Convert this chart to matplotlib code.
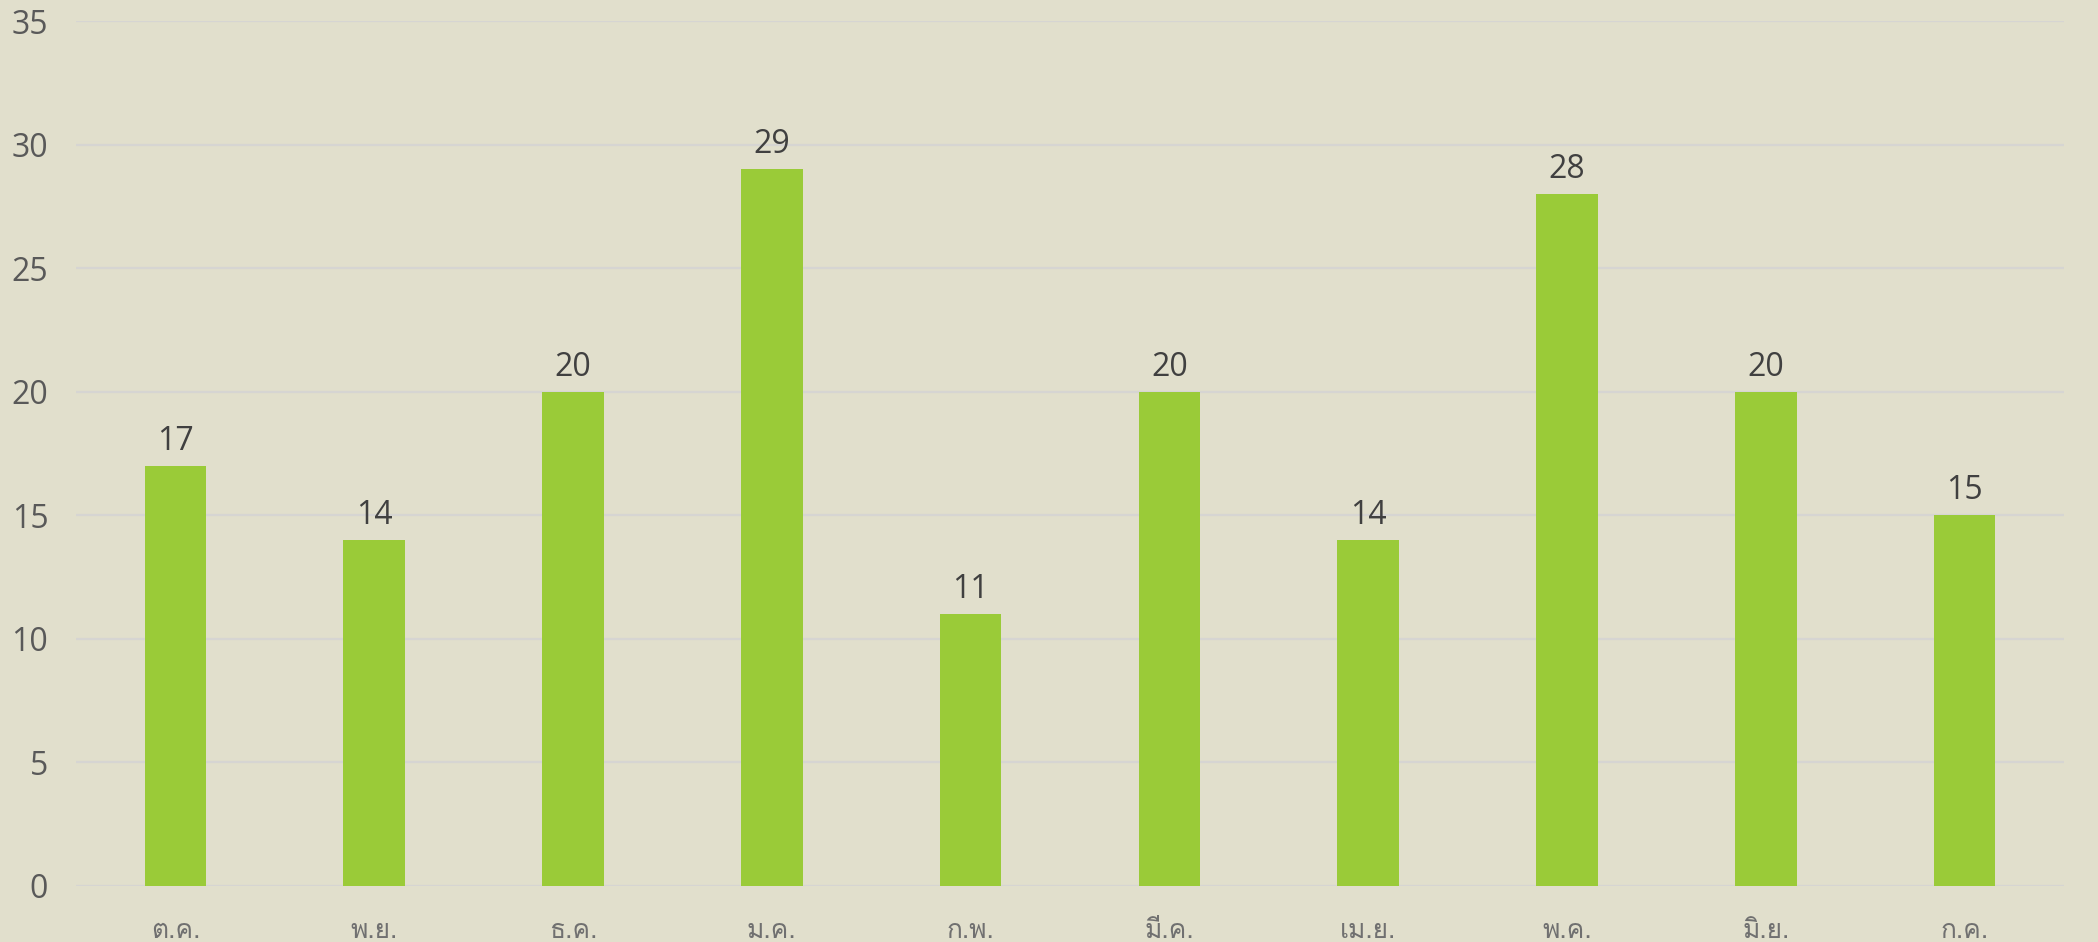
import matplotlib
matplotlib.use("Agg")
import matplotlib.pyplot as plt
import numpy as np

months = ["ต.ค.", "พ.ย.", "ธ.ค.", "ม.ค.", "ก.พ.", "มี.ค.", "เม.ย.", "พ.ค.", "มิ.ย.", "ก.ค."]
values = [17, 14, 20, 29, 11, 20, 14, 28, 20, 15]
yticks = [0, 5, 10, 15, 20, 25, 30, 35]

BG = "#e1dfcc"
BAR = "#9acb38"
GRID = "#d6d5d2"

fig = plt.figure(figsize=(20.98, 9.42), dpi=100, facecolor=BG)
ax = fig.add_axes([76/2098, 1-886/942, (2064-76)/2098, (886-21)/942])
ax.set_facecolor(BG)

x = np.arange(len(months))
ax.bar(x, values, width=0.31, color=BAR, zorder=3)
ax.set_xlim(-0.5, len(months)-0.5)
ax.set_ylim(0, 35)
ax.set_yticks(yticks)
ax.set_yticklabels([str(t) for t in yticks], fontsize=23, color="#595959",
                   family=["Open Sans", "DejaVu Sans"])
ax.set_xticks(x)
ax.set_xticklabels(months, fontsize=19, color="#707070", family=["Loma", "DejaVu Sans"])
ax.tick_params(axis="y", length=0, pad=20)
ax.tick_params(axis="x", length=0, pad=24)
ax.grid(axis="y", color=GRID, linewidth=1.6, zorder=0)
for s in ax.spines.values():
    s.set_visible(False)

for xi, v in zip(x, values):
    ax.annotate(str(v), (xi, v), xytext=(0, 11.5), textcoords="offset points",
                ha="center", va="baseline", fontsize=23, color="#404040",
                family=["Open Sans", "DejaVu Sans"])

fig.savefig("out.png", facecolor=BG)
